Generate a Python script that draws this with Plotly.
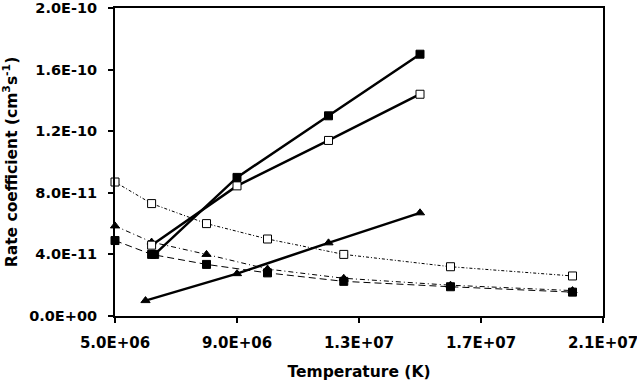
import plotly.graph_objects as go

# dashed curves share one temperature grid
temp_dashed = [5.0e6, 6.2e6, 8.0e6, 1.0e7, 1.25e7, 1.6e7, 2.0e7]
rate_open_dashed = [8.7e-11, 7.3e-11, 6.0e-11, 5.0e-11, 4.0e-11, 3.2e-11, 2.6e-11]
rate_tri_dashed = [5.85e-11, 4.8e-11, 4.0e-11, 3.05e-11, 2.45e-11, 2.0e-11, 1.65e-11]
rate_fill_dashed = [4.9e-11, 4.0e-11, 3.35e-11, 2.8e-11, 2.25e-11, 1.9e-11, 1.55e-11]

# solid curves
temp_fill_solid = [6.3e6, 9.0e6, 1.2e7, 1.5e7]
rate_fill_solid = [4.0e-11, 9.0e-11, 1.3e-10, 1.7e-10]
temp_open_solid = [6.2e6, 9.0e6, 1.2e7, 1.5e7]
rate_open_solid = [4.6e-11, 8.45e-11, 1.14e-10, 1.44e-10]
temp_tri_solid = [6.0e6, 9.0e6, 1.2e7, 1.5e7]
rate_tri_solid = [1.0e-11, 2.75e-11, 4.75e-11, 6.7e-11]

x_ticks = [5e6, 9e6, 1.3e7, 1.7e7, 2.1e7]
x_labels = ['5.0E+06', '9.0E+06', '1.3E+07', '1.7E+07', '2.1E+07']
y_ticks = [0, 4e-11, 8e-11, 1.2e-10, 1.6e-10, 2e-10]
y_labels = ['0.0E+00', '4.0E-11', '8.0E-11', '1.2E-10', '1.6E-10', '2.0E-10']

FONT = 'DejaVu Sans'

fig = go.Figure()


def add(x, y, symbol, dash, width, fill='black'):
    fig.add_trace(go.Scatter(
        x=x, y=y, mode='lines+markers', cliponaxis=False,
        line={'color': 'black', 'width': width, 'dash': dash},
        marker={'symbol': symbol, 'size': 8, 'color': fill,
                'line': {'color': 'black', 'width': 1}}))


add(temp_dashed, rate_open_dashed, 'square', '3px,2px,1px,2px', 1, 'white')
add(temp_dashed, rate_tri_dashed, 'triangle-up', '5px,3px,1px,3px', 1)
add(temp_dashed, rate_fill_dashed, 'square', '7px,4px', 1)
add(temp_open_solid, rate_open_solid, 'square', 'solid', 2.5, 'white')
add(temp_fill_solid, rate_fill_solid, 'square', 'solid', 2.5)
add(temp_tri_solid, rate_tri_solid, 'triangle-up', 'solid', 2.5)

fig.update_layout(
    width=637, height=383,
    paper_bgcolor='white', plot_bgcolor='white',
    showlegend=False,
    font={'family': FONT, 'size': 15, 'color': 'black', 'weight': 'bold'},
    margin={'l': 115, 'r': 34, 't': 8, 'b': 67},
)
fig.update_xaxes(
    range=[5e6, 2.1e7], tickvals=x_ticks, ticktext=x_labels,
    showgrid=False, zeroline=False, automargin=False,
    showline=True, linecolor='black', linewidth=2, mirror=True,
    ticks='outside', ticklen=5, tickwidth=2, tickcolor='black',
    ticklabelstandoff=7, ticklabeloverflow='allow',
    title={'text': 'Temperature (K)', 'font': {'size': 15.5, 'family': FONT, 'weight': 'bold'},
           'standoff': 15},
)
fig.update_yaxes(
    range=[0, 2e-10], tickvals=y_ticks, ticktext=y_labels,
    showgrid=False, zeroline=False, automargin=False,
    showline=True, linecolor='black', linewidth=2, mirror=True,
    ticks='outside', ticklen=5, tickwidth=2, tickcolor='black',
    ticklabelstandoff=8, ticklabeloverflow='allow',
    tickfont={'size': 14.5},
    title={'text': 'Rate coefficient (cm<sup>3</sup>s<sup>-1</sup>)',
           'font': {'size': 15.5, 'family': FONT, 'weight': 'bold'}, 'standoff': 10},
)

# the page body has a default 8px margin; drop it so the figure fills the window
fig.write_html('out.html', config={'displayModeBar': False},
               post_script='document.body.style.margin = "0";')
